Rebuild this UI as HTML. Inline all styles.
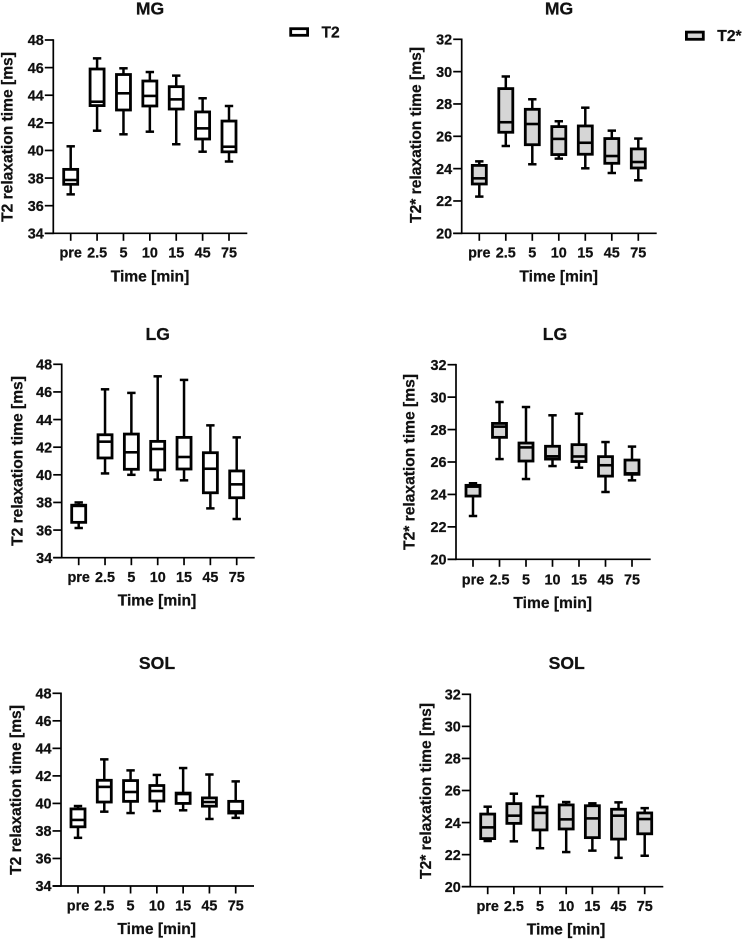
<!DOCTYPE html>
<html lang="en">
<head>
<meta charset="utf-8">
<title>T2 and T2* relaxation time box plots</title>
<style>
  html, body { margin: 0; padding: 0; background: #fff; }
  #figure { display: block; width: 743px; height: 939px; filter: blur(0.3px); }
  text { font-family: "Liberation Sans", Arial, sans-serif; font-weight: 700; fill: #111; stroke: #111; stroke-width: 0.25px; }
</style>
</head>
<body>
<svg id="figure" xmlns="http://www.w3.org/2000/svg" width="743" height="939" viewBox="0 0 743 939"></svg>
<script>
// Shared labels
const categories = ["pre", "2.5", "5", "10", "15", "45", "75"];
const t2Ticks = [34, 36, 38, 40, 42, 44, 46, 48];
const t2StarTicks = [20, 22, 24, 26, 28, 30, 32];

// MG T2
const mgT2Low = [36.82, 41.43, 41.17, 41.36, 40.45, 39.91, 39.2];
const mgT2Q1 = [37.55, 43.25, 42.93, 43.22, 43.0, 40.83, 39.9];
const mgT2Median = [37.86, 43.53, 44.14, 43.95, 43.7, 41.6, 40.27];
const mgT2Q3 = [38.63, 45.9, 45.5, 45.03, 44.62, 42.79, 42.13];
const mgT2High = [40.3, 46.67, 45.95, 45.68, 45.42, 43.78, 43.22];

// MG T2*
const mgStarLow = [22.27, 25.4, 24.27, 24.62, 24.02, 23.73, 23.28];
const mgStarQ1 = [23.05, 26.25, 25.48, 24.87, 24.89, 24.33, 24.04];
const mgStarMedian = [23.4, 26.87, 26.76, 25.84, 25.6, 24.78, 24.41];
const mgStarQ3 = [24.2, 28.95, 27.67, 26.6, 26.64, 25.86, 25.22];
const mgStarHigh = [24.45, 29.7, 28.29, 26.93, 27.77, 26.35, 25.86];

// LG T2
const lgT2Low = [36.15, 40.1, 40.0, 39.65, 39.6, 37.57, 36.8];
const lgT2Q1 = [36.56, 41.22, 40.4, 40.35, 40.42, 38.7, 38.34];
const lgT2Median = [37.75, 42.4, 41.63, 41.87, 41.29, 40.44, 39.31];
const lgT2Q3 = [37.8, 42.9, 42.95, 42.42, 42.71, 41.6, 40.28];
const lgT2High = [38.0, 46.19, 45.93, 47.13, 46.87, 43.58, 42.71];

// LG T2*
const lgStarLow = [22.67, 26.18, 24.95, 25.75, 25.65, 24.15, 24.87];
const lgStarQ1 = [23.9, 27.52, 26.06, 26.18, 26.03, 25.13, 25.24];
const lgStarMedian = [24.48, 28.18, 26.9, 26.35, 26.34, 25.8, 25.3];
const lgStarQ3 = [24.56, 28.38, 27.17, 26.97, 27.07, 26.33, 26.12];
const lgStarHigh = [24.69, 29.7, 29.39, 28.88, 28.98, 27.23, 26.95];

// SOL T2
const solT2Low = [37.5, 39.4, 39.3, 39.45, 39.5, 38.87, 38.95];
const solT2Q1 = [38.3, 40.1, 40.15, 40.17, 40.0, 39.8, 39.3];
const solT2Median = [38.8, 41.2, 40.83, 40.9, 40.68, 40.1, 39.42];
const solT2Q3 = [39.6, 41.68, 41.66, 41.3, 40.75, 40.4, 40.15];
const solT2High = [39.81, 43.2, 42.4, 42.07, 42.57, 42.1, 41.6];

// SOL T2*
const solStarLow = [22.85, 22.83, 22.4, 22.16, 22.25, 21.8, 21.93];
const solStarQ1 = [23.0, 23.95, 23.54, 23.6, 23.06, 22.97, 23.3];
const solStarMedian = [23.7, 24.43, 24.6, 24.2, 24.26, 24.43, 24.22];
const solStarQ3 = [24.53, 25.18, 24.97, 25.1, 25.05, 24.83, 24.6];
const solStarHigh = [24.99, 25.8, 25.65, 25.28, 25.2, 25.26, 24.9];

const svg = document.getElementById('figure');
const NS = 'http://www.w3.org/2000/svg';

function make(tag, parent, props, text) {
  const node = document.createElementNS(NS, tag);
  for (const key in props) node.setAttribute(key, props[key]);
  if (text !== undefined) node.textContent = text;
  parent.appendChild(node);
  return node;
}
function line(parent, x1, y1, x2, y2, width) {
  return make('line', parent, { x1: x1, y1: y1, x2: x2, y2: y2, stroke: '#000', 'stroke-width': width });
}

function drawPanel(cfg) {
  const group = make('g', svg, {});
  
  

  const ticks = cfg.ticks;
  const yMin = ticks[0];
  const yMax = ticks[ticks.length - 1];
  const yScale = function (v) {
    return cfg.bottom - (v - yMin) / (yMax - yMin) * (cfg.bottom - cfg.top);
  };
  const step = (cfg.lastX - cfg.firstX) / (categories.length - 1);
  const xScale = function (i) { return cfg.firstX + i * step; };

  const title = make('text', group, { x: cfg.titleX, y: cfg.titleY, 'text-anchor': 'middle', 'font-size': 17.6 }, cfg.title);
  
  

  const yAxis = line(group, cfg.axisX, cfg.top - 0.8, cfg.axisX, cfg.bottom + 0.8, 1.7);
  
  

  const xAxis = line(group, cfg.axisX - 8.5, cfg.bottom, cfg.right, cfg.bottom, 1.7);
  
  

  ticks.forEach(function (tick) {
    const y = yScale(tick);
    line(group, cfg.axisX - 8.5, y, cfg.axisX, y, 1.7);
    const label = make('text', group, { x: cfg.axisX - 9.5, y: y + 5.2, 'text-anchor': 'end', 'font-size': 14.4 }, String(tick));
    
    
  });

  const yTitle = make('text', group, {
    x: 0, y: 0, 'text-anchor': 'middle', 'font-size': 15.6,
    transform: 'translate(' + cfg.yTitleX + ' ' + cfg.yTitleY + ') rotate(-90)'
  }, cfg.yLabel);
  
  

  const xTitle = make('text', group, { x: cfg.xTitleX, y: cfg.xTitleY, 'text-anchor': 'middle', 'font-size': 15.6 }, 'Time [min]');
  
  

  categories.forEach(function (cat, i) {
    const x = xScale(i);
    line(group, x, cfg.bottom, x, cfg.bottom + 7.5, 1.7);
    const label = make('text', group, { x: x, y: cfg.tickY, 'text-anchor': 'middle', 'font-size': 14.4 }, cat);
    
    

    const box = make('g', group, {});
    
    

    const hw = 7;
    const capW = 4.2;
    line(box, x, yScale(cfg.low[i]), x, yScale(cfg.q1[i]), 2.5);
    line(box, x, yScale(cfg.high[i]), x, yScale(cfg.q3[i]), 2.5);
    line(box, x - capW, yScale(cfg.low[i]), x + capW, yScale(cfg.low[i]), 2.5);
    line(box, x - capW, yScale(cfg.high[i]), x + capW, yScale(cfg.high[i]), 2.5);
    make('rect', box, {
      x: x - hw, y: yScale(cfg.q3[i]), width: hw * 2, height: yScale(cfg.q1[i]) - yScale(cfg.q3[i]),
      fill: cfg.fill, stroke: '#000', 'stroke-width': 2.8
    });
    line(box, x - hw, yScale(cfg.median[i]), x + hw, yScale(cfg.median[i]), 2.6);
  });
}

const t2Y = 'T2 relaxation time [ms]';
const starY = 'T2* relaxation time [ms]';

drawPanel({ id: 'mg-t2', title: 'MG', yLabel: t2Y, ticks: t2Ticks, fill: '#fff',
  axisX: 53.3, top: 40, bottom: 233.3, right: 247.3, firstX: 70.7, lastX: 229,
  titleX: 150, titleY: 14.7, yTitleX: 12.5, yTitleY: 137, xTitleX: 150, xTitleY: 281.5, tickY: 257.5,
  low: mgT2Low, q1: mgT2Q1, median: mgT2Median, q3: mgT2Q3, high: mgT2High });

drawPanel({ id: 'mg-t2-star', title: 'MG', yLabel: starY, ticks: t2StarTicks, fill: '#d6d6d6',
  axisX: 461.7, top: 39.3, bottom: 233.3, right: 656.7, firstX: 479.3, lastX: 638.3,
  titleX: 559, titleY: 14.7, yTitleX: 421, yTitleY: 135, xTitleX: 558.7, xTitleY: 281.5, tickY: 257.5,
  low: mgStarLow, q1: mgStarQ1, median: mgStarMedian, q3: mgStarQ3, high: mgStarHigh });

drawPanel({ id: 'lg-t2', title: 'LG', yLabel: t2Y, ticks: t2Ticks, fill: '#fff',
  axisX: 61.7, top: 364.3, bottom: 557.7, right: 254.7, firstX: 78.7, lastX: 236.7,
  titleX: 157.7, titleY: 340, yTitleX: 22.5, yTitleY: 461, xTitleX: 157, xTitleY: 605.7, tickY: 582,
  low: lgT2Low, q1: lgT2Q1, median: lgT2Median, q3: lgT2Q3, high: lgT2High });

drawPanel({ id: 'lg-t2-star', title: 'LG', yLabel: starY, ticks: t2StarTicks, fill: '#d6d6d6',
  axisX: 456, top: 364.7, bottom: 559.3, right: 650.7, firstX: 473, lastX: 632,
  titleX: 555, titleY: 340, yTitleX: 414.5, yTitleY: 462, xTitleX: 552.7, xTitleY: 608, tickY: 584.5,
  low: lgStarLow, q1: lgStarQ1, median: lgStarMedian, q3: lgStarQ3, high: lgStarHigh });

drawPanel({ id: 'sol-t2', title: 'SOL', yLabel: t2Y, ticks: t2Ticks, fill: '#fff',
  axisX: 61, top: 693.3, bottom: 886, right: 254, firstX: 78, lastX: 235.7,
  titleX: 157, titleY: 669, yTitleX: 21, yTitleY: 790, xTitleX: 156.7, xTitleY: 934, tickY: 910.5,
  low: solT2Low, q1: solT2Q1, median: solT2Median, q3: solT2Q3, high: solT2High });

drawPanel({ id: 'sol-t2-star', title: 'SOL', yLabel: starY, ticks: t2StarTicks, fill: '#d6d6d6',
  axisX: 470.3, top: 694.3, bottom: 886.7, right: 663.3, firstX: 487.7, lastX: 644.7,
  titleX: 566.7, titleY: 669, yTitleX: 431, yTitleY: 791, xTitleX: 566, xTitleY: 934.5, tickY: 911,
  low: solStarLow, q1: solStarQ1, median: solStarMedian, q3: solStarQ3, high: solStarHigh });

function drawLegend(id, x, y, w, h, fill, textX, textY, label) {
  const group = make('g', svg, {});
  
  
  make('rect', group, { x: x, y: y, width: w, height: h, fill: fill, stroke: '#000', 'stroke-width': 2.8 });
  make('text', group, { x: textX, y: textY, 'font-size': 15.6 }, label);
}
drawLegend('legend-t2', 290.7, 28.7, 16.9, 6.6, '#fff', 321.5, 37.5, 'T2');
drawLegend('legend-t2-star', 686.4, 32.1, 16.9, 7.2, '#d6d6d6', 717.3, 41, 'T2*');
</script>
</body>
</html>
